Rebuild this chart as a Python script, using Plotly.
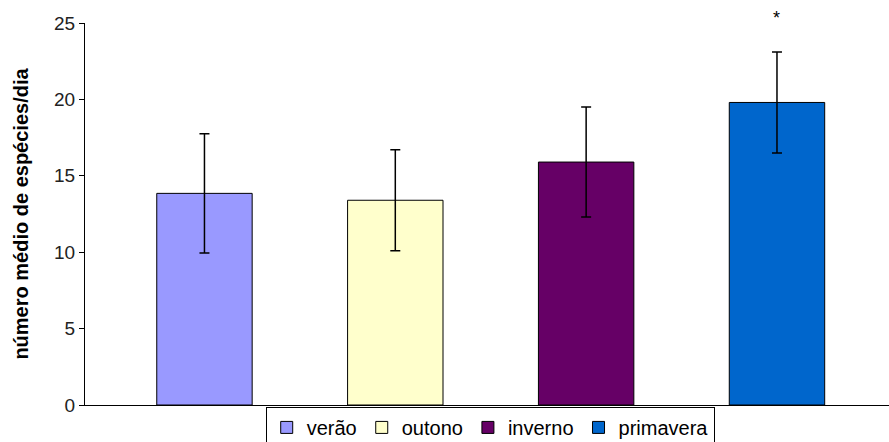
import plotly.graph_objects as go

seasons = ["verão", "outono", "inverno", "primavera"]
means = [13.85, 13.4, 15.9, 19.8]
errors = [3.9, 3.3, 3.6, 3.3]
colors = ["#9999FF", "#FFFFCC", "#660066", "#0066CC"]
y_ticks = [0, 5, 10, 15, 20, 25]
star_label = "*"
star_index = 3

fig = go.Figure()
for i, (s, m, e, c) in enumerate(zip(seasons, means, errors, colors)):
    fig.add_trace(go.Bar(
        x=[i], y=[m], name=s, width=0.5,
        marker=dict(color=c, line=dict(color="black", width=1)),
        error_y=dict(type="data", array=[e], color="black", thickness=1.5, width=5),
    ))

fig.add_annotation(x=star_index, y=1.0, xref="x", yref="y domain", text=star_label,
                   showarrow=False, yanchor="bottom", yshift=-7,
                   font=dict(family="Liberation Sans, Arial", size=18, color="black"))

fig.update_layout(
    width=889, height=442,
    margin=dict(l=85, r=0, t=23, b=37, autoexpand=False),
    paper_bgcolor="white", plot_bgcolor="white",
    showlegend=True,
    font=dict(family="Liberation Sans, Arial", color="black"),
    legend=dict(orientation="h", x=0.504, xanchor="center", y=-0.005, yanchor="top",
                bordercolor="black", borderwidth=1, font=dict(size=20),
                itemwidth=30, tracegroupgap=0),
    xaxis=dict(range=[-0.626, 3.587], showticklabels=False, showgrid=False, zeroline=False,
               showline=True, linecolor="black", linewidth=1, ticks=""),
    yaxis=dict(range=[0, 25], tickvals=y_ticks, showgrid=False, zeroline=False,
               showline=True, linecolor="black", linewidth=1, ticks="outside", ticklen=5,
               tickcolor="black", tickfont=dict(size=19, color="#222222"),
               title=dict(text="<b>número médio de espécies/dia</b>", font=dict(size=20), standoff=20)),
)

fig.write_html("out.html")
